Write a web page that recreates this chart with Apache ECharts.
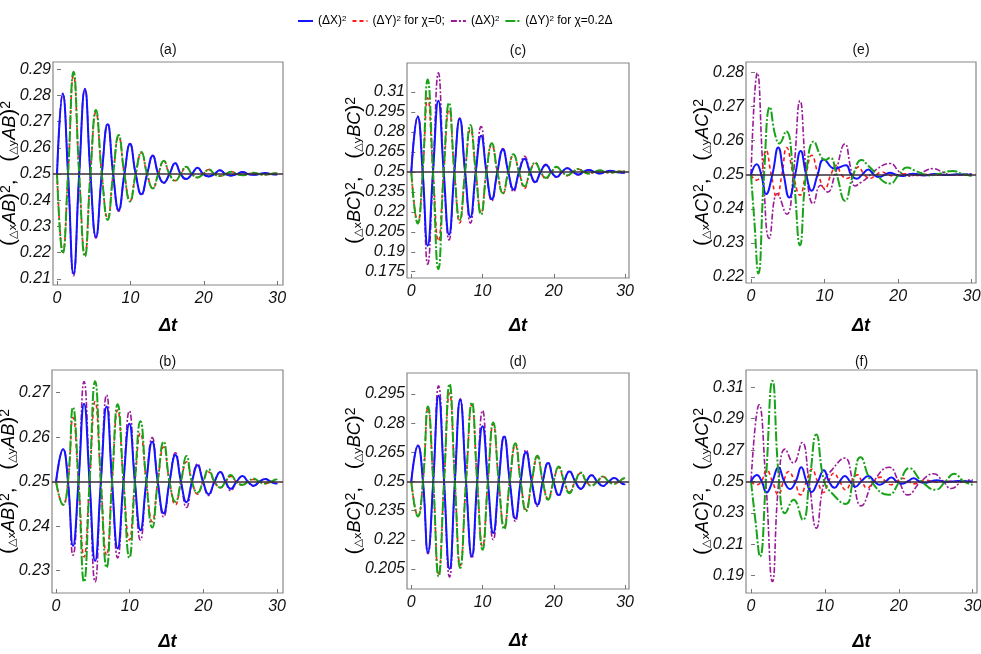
<!DOCTYPE html>
<html>
<head>
<meta charset="utf-8">
<script src="https://cdn.jsdelivr.net/npm/echarts@6/dist/echarts.min.js"></script>
<style>
html, body { margin: 0; padding: 0; background: #fff; }
#main { width: 981px; height: 654px; }
</style>
</head>
<body>
<div id="main"></div>
<script>
var chart = echarts.init(document.getElementById('main'));

// ---- values ----
// X0 = (ΔX)^2, Y0 = (ΔY)^2 for χ=0 ; X2 = (ΔX)^2, Y2 = (ΔY)^2 for χ=0.2Δ

// panel (a)
var tA = [0,0.78,1.5,2.25,3.02,3.8,4.55,5.3,6.1,6.9,7.65,8.4,9.18,9.95,10.72,11.5,12.28,13.05,13.8,14.55,15.32,16.1,16.85,17.6,18.38,19.15,19.92,20.7,21.45,22.2,22.98,23.75,24.52,25.3,26.05,26.8,27.58,28.35,29.12,29.9,30];
var aX0 = [0.25,0.2805,0.25,0.212,0.25,0.2823,0.25,0.2261,0.25,0.269,0.25,0.2363,0.25,0.2614,0.25,0.2423,0.25,0.257,0.25,0.2467,0.25,0.2541,0.25,0.2481,0.25,0.2524,0.25,0.2491,0.25,0.2514,0.25,0.2494,0.25,0.2508,0.25,0.2497,0.25,0.2504,0.25,0.2498,0.2499];
var aY0 = [0.25,0.2202,0.25,0.2875,0.25,0.2195,0.25,0.2735,0.25,0.2332,0.25,0.2642,0.25,0.2398,0.25,0.2581,0.25,0.2446,0.25,0.255,0.25,0.2475,0.25,0.2527,0.25,0.2487,0.25,0.2517,0.25,0.2492,0.25,0.2509,0.25,0.2495,0.25,0.2505,0.25,0.2497,0.25,0.2503,0.2502];
var aX2 = [0.25,0.2808,0.25,0.2112,0.25,0.2826,0.25,0.2255,0.25,0.2692,0.25,0.2358,0.25,0.2616,0.25,0.242,0.25,0.2571,0.25,0.2465,0.25,0.2542,0.25,0.248,0.25,0.2524,0.25,0.2491,0.25,0.2514,0.25,0.2494,0.25,0.2508,0.25,0.2497,0.25,0.2504,0.25,0.2498,0.2499];
var aY2 = [0.25,0.2198,0.25,0.289,0.25,0.2185,0.25,0.2744,0.25,0.2325,0.25,0.2649,0.25,0.2395,0.25,0.2584,0.25,0.2445,0.25,0.2551,0.25,0.2474,0.25,0.2528,0.25,0.2487,0.25,0.2517,0.25,0.2492,0.25,0.2509,0.25,0.2495,0.25,0.2505,0.25,0.2497,0.25,0.2503,0.2502];

// panel (b)
var tB = [0,0.95,1.62,2.3,3.05,3.8,4.55,5.3,6.08,6.86,7.6,8.36,9.15,9.95,10.7,11.45,12.25,13.05,13.8,14.6,15.4,16.2,16.95,17.7,18.45,19.2,19.95,20.7,21.5,22.3,23.0,23.7,24.5,25.3,26.05,26.8,27.6,28.4,29.15,29.9,30];
var bX0 = [0.25,0.2573,0.25,0.2356,0.25,0.2675,0.25,0.2322,0.25,0.2669,0.25,0.235,0.25,0.263,0.25,0.2391,0.25,0.259,0.25,0.2429,0.25,0.256,0.25,0.2454,0.25,0.2537,0.25,0.2472,0.25,0.2522,0.25,0.2484,0.25,0.2513,0.25,0.2491,0.25,0.2506,0.25,0.2496,0.2497];
var bY0 = [0.25,0.2448,0.25,0.2644,0.25,0.2331,0.25,0.268,0.25,0.2335,0.25,0.2661,0.25,0.2369,0.25,0.2609,0.25,0.241,0.25,0.2578,0.25,0.2448,0.25,0.2545,0.25,0.2472,0.25,0.2522,0.25,0.2486,0.25,0.2512,0.25,0.2493,0.25,0.2505,0.25,0.2496,0.25,0.2503,0.2503];
var bX2 = [0.25,0.2573,0.25,0.2335,0.25,0.2725,0.25,0.2275,0.25,0.2695,0.25,0.2329,0.25,0.2659,0.25,0.2369,0.25,0.2599,0.25,0.2421,0.25,0.2565,0.25,0.2442,0.25,0.254,0.25,0.2469,0.25,0.2522,0.25,0.248,0.25,0.2513,0.25,0.249,0.25,0.2506,0.25,0.2496,0.2497];
var bY2 = [0.25,0.2448,0.25,0.2667,0.25,0.2275,0.25,0.2726,0.25,0.2307,0.25,0.2674,0.25,0.2329,0.25,0.2636,0.25,0.2397,0.25,0.259,0.25,0.2455,0.25,0.2558,0.25,0.2475,0.25,0.2528,0.25,0.2487,0.25,0.2515,0.25,0.2493,0.25,0.2507,0.25,0.2496,0.25,0.2505,0.2504];

// panel (c)
var tC = [0,0.9,1.6,2.3,3.05,3.8,4.55,5.3,6.05,6.8,7.55,8.3,9.05,9.8,10.55,11.3,12.08,12.85,13.6,14.35,15.12,15.9,16.65,17.4,18.15,18.9,19.65,20.4,21.15,21.9,22.68,23.45,24.18,24.9,25.7,26.5,27.2,27.9,28.7,29.5,30];
var cX0 = [0.25,0.2915,0.25,0.1946,0.25,0.3035,0.25,0.2029,0.25,0.29,0.25,0.216,0.25,0.2772,0.25,0.2295,0.25,0.2669,0.25,0.2367,0.25,0.2598,0.25,0.2424,0.25,0.2552,0.25,0.2462,0.25,0.2527,0.25,0.248,0.25,0.2515,0.25,0.2488,0.25,0.2508,0.25,0.2494,0.2496];
var cY0 = [0.25,0.212,0.25,0.3056,0.25,0.198,0.25,0.2969,0.25,0.2117,0.25,0.2818,0.25,0.2192,0.25,0.2705,0.25,0.2336,0.25,0.2628,0.25,0.2376,0.25,0.2565,0.25,0.2448,0.25,0.2535,0.25,0.2472,0.25,0.252,0.25,0.2486,0.25,0.2511,0.25,0.2493,0.25,0.2505,0.2504];
var cX2 = [0.25,0.2919,0.25,0.1807,0.25,0.3244,0.25,0.1989,0.25,0.2905,0.25,0.2115,0.25,0.284,0.25,0.2282,0.25,0.2675,0.25,0.2352,0.25,0.2618,0.25,0.2418,0.25,0.2558,0.25,0.2458,0.25,0.2529,0.25,0.2478,0.25,0.2516,0.25,0.2488,0.25,0.2508,0.25,0.2494,0.2496];
var cY2 = [0.25,0.2112,0.25,0.3194,0.25,0.1769,0.25,0.3019,0.25,0.214,0.25,0.2852,0.25,0.2179,0.25,0.2716,0.25,0.2341,0.25,0.2633,0.25,0.2392,0.25,0.257,0.25,0.2455,0.25,0.2538,0.25,0.2475,0.25,0.2522,0.25,0.2487,0.25,0.2512,0.25,0.2494,0.25,0.2505,0.2504];

// panel (d)
var tD = [0,0.93,1.64,2.34,3.08,3.83,4.6,5.37,6.12,6.87,7.68,8.5,9.25,10.0,10.75,11.5,12.27,13.04,13.82,14.6,15.35,16.1,16.9,17.7,18.45,19.2,19.95,20.7,21.45,22.2,23.0,23.8,24.55,25.3,26.1,26.9,27.7,28.5,29.2,29.9,30];
var dX0 = [0.25,0.2684,0.25,0.2136,0.25,0.2941,0.25,0.205,0.25,0.292,0.25,0.2115,0.25,0.2784,0.25,0.2235,0.25,0.2732,0.25,0.231,0.25,0.265,0.25,0.238,0.25,0.2595,0.25,0.243,0.25,0.2552,0.25,0.2462,0.25,0.2532,0.25,0.2477,0.25,0.2518,0.25,0.2486,0.2488];
var dY0 = [0.25,0.2322,0.25,0.2878,0.25,0.2025,0.25,0.2955,0.25,0.2068,0.25,0.2895,0.25,0.2165,0.25,0.2795,0.25,0.2268,0.25,0.2688,0.25,0.2355,0.25,0.2625,0.25,0.2412,0.25,0.2572,0.25,0.2446,0.25,0.2543,0.25,0.248,0.25,0.2525,0.25,0.2489,0.25,0.2516,0.2515];
var dX2 = [0.25,0.2686,0.25,0.2128,0.25,0.2992,0.25,0.2008,0.25,0.2925,0.25,0.2105,0.25,0.2865,0.25,0.22,0.25,0.2735,0.25,0.2295,0.25,0.2663,0.25,0.2372,0.25,0.2598,0.25,0.2427,0.25,0.2554,0.25,0.246,0.25,0.2533,0.25,0.2476,0.25,0.2518,0.25,0.2486,0.2488];
var dY2 = [0.25,0.232,0.25,0.2886,0.25,0.2011,0.25,0.3002,0.25,0.2055,0.25,0.2907,0.25,0.2149,0.25,0.2804,0.25,0.2255,0.25,0.2697,0.25,0.2347,0.25,0.2632,0.25,0.2406,0.25,0.2577,0.25,0.244,0.25,0.2546,0.25,0.2478,0.25,0.2526,0.25,0.2488,0.25,0.2517,0.2516];

// panel (e)  [Δt, value]
var eX0 = [[0,0.25],[0.77,0.2531],[1.4,0.25],[2.05,0.2443],[2.9,0.25],[3.7,0.258],[4.45,0.25],[5.2,0.2433],[6.0,0.25],[6.75,0.257],[7.5,0.25],[8.25,0.2453],[9.05,0.25],[9.9,0.2545],[11.35,0.2518],[12.9,0.2528],[13.6,0.25],[14.35,0.2488],[15.1,0.25],[15.95,0.2515],[16.7,0.25],[17.4,0.2493],[18.2,0.25],[18.9,0.2506],[19.7,0.25],[20.5,0.2496],[21.3,0.25],[22.0,0.2503],[23.5,0.2498],[25.0,0.2502],[26.5,0.2499],[28.0,0.2501],[30,0.25]];
var eY0 = [[0,0.25],[0.68,0.2484],[1.35,0.25],[2.04,0.2572],[2.75,0.25],[3.5,0.2435],[4.2,0.25],[4.85,0.258],[5.75,0.25],[6.65,0.244],[7.45,0.25],[8.25,0.2557],[9.15,0.25],[10.05,0.2459],[10.85,0.25],[11.6,0.2528],[12.3,0.25],[13.0,0.2489],[13.8,0.25],[14.6,0.2523],[15.4,0.25],[16.2,0.2489],[17.0,0.25],[17.8,0.2508],[18.6,0.25],[19.4,0.2496],[21.0,0.2503],[22.5,0.2498],[24.0,0.2501],[26.0,0.25],[30,0.25]];
var eX2 = [[0,0.25],[0.86,0.2799],[1.68,0.25],[2.49,0.2313],[3.58,0.2445],[4.85,0.2384],[5.75,0.25],[6.66,0.2717],[7.57,0.25],[8.47,0.2415],[9.47,0.2469],[10.4,0.2449],[11.4,0.25],[12.78,0.259],[13.5,0.2525],[14.14,0.2467],[15.0,0.2478],[15.7,0.2489],[17.0,0.2515],[18.9,0.2533],[20.2,0.2508],[21.4,0.2496],[23.0,0.2505],[24.8,0.2518],[26.0,0.2508],[27.3,0.2499],[30,0.2503]];
var eY2 = [[0,0.25],[0.45,0.2366],[1.0,0.221],[1.77,0.25],[2.58,0.2699],[3.3,0.2615],[3.85,0.2592],[4.76,0.2628],[5.75,0.25],[6.66,0.2293],[7.48,0.25],[8.56,0.2598],[9.4,0.2558],[10.06,0.2543],[10.74,0.255],[11.64,0.25],[12.78,0.2423],[13.9,0.25],[15.04,0.2543],[15.9,0.2527],[17.0,0.2503],[18.0,0.248],[18.9,0.2474],[20.1,0.25],[21.2,0.2521],[22.3,0.2512],[23.3,0.2503],[24.2,0.2498],[25.6,0.2503],[27.4,0.2511],[28.8,0.2502],[30,0.2496]];

// panel (f)  [Δt, value]
var fX0 = [[0,0.25],[0.8,0.2542],[1.45,0.25],[2.1,0.243],[2.9,0.25],[3.7,0.2591],[4.5,0.25],[5.25,0.2452],[6.05,0.25],[6.8,0.259],[7.5,0.25],[8.2,0.2433],[9.05,0.25],[9.85,0.2572],[10.55,0.25],[11.3,0.246],[12.0,0.25],[12.7,0.2535],[13.4,0.25],[14.1,0.2466],[14.9,0.25],[15.9,0.2535],[16.7,0.25],[17.4,0.2479],[18.2,0.25],[19.0,0.2526],[19.7,0.25],[20.4,0.2486],[21.2,0.25],[22.0,0.252],[22.8,0.25],[23.5,0.2492],[24.3,0.25],[25.1,0.2508],[26.5,0.2497],[28.0,0.2503],[30,0.25]];
var fY0 = [[0,0.25],[0.75,0.2479],[1.4,0.25],[2.1,0.2574],[2.9,0.25],[3.7,0.2415],[4.4,0.25],[5.1,0.2564],[5.9,0.25],[6.7,0.2415],[7.5,0.25],[8.25,0.2579],[9.0,0.25],[9.8,0.243],[10.5,0.25],[11.2,0.2553],[12.0,0.25],[12.8,0.2447],[13.6,0.25],[14.4,0.2542],[15.0,0.25],[15.7,0.2458],[16.6,0.25],[17.5,0.2528],[18.2,0.25],[18.9,0.2479],[19.7,0.25],[20.5,0.2521],[21.3,0.25],[22.1,0.2485],[22.9,0.25],[23.7,0.2508],[25.0,0.2497],[26.5,0.2502],[28.0,0.2499],[30,0.25]];
var fX2 = [[0,0.25],[1.09,0.2988],[2.0,0.25],[2.9,0.1863],[3.75,0.25],[4.62,0.2706],[5.75,0.2617],[6.9,0.2748],[7.85,0.25],[8.84,0.2203],[9.9,0.25],[10.96,0.2574],[12.65,0.2649],[13.8,0.25],[14.9,0.2345],[16.6,0.25],[18.7,0.2591],[20.0,0.25],[21.2,0.2415],[23.0,0.25],[24.7,0.2549],[26.0,0.25],[27.1,0.2455],[28.6,0.25],[30,0.2511]];
var fY2 = [[0,0.25],[0.6,0.225],[1.22,0.2022],[2.0,0.25],[2.9,0.3142],[3.8,0.25],[4.62,0.2298],[5.75,0.2383],[7.0,0.2255],[7.9,0.25],[8.84,0.28],[9.9,0.25],[10.96,0.2425],[12.8,0.2357],[13.8,0.25],[14.8,0.2654],[16.3,0.25],[18.6,0.2415],[20.1,0.25],[21.4,0.2585],[23.1,0.25],[25.0,0.2447],[26.3,0.25],[27.5,0.2549],[28.8,0.25],[30,0.2479]];

// tick labels
var xTicks = [0, 10, 20, 30];
var aTicks = [0.21, 0.22, 0.23, 0.24, 0.25, 0.26, 0.27, 0.28, 0.29];
var bTicks = [0.23, 0.24, 0.25, 0.26, 0.27];
var cTicks = [0.175, 0.19, 0.205, 0.22, 0.235, 0.25, 0.265, 0.28, 0.295, 0.31];
var dTicks = [0.205, 0.22, 0.235, 0.25, 0.265, 0.28, 0.295];
var eTicks = [0.22, 0.23, 0.24, 0.25, 0.26, 0.27, 0.28];
var fTicks = [0.19, 0.21, 0.23, 0.25, 0.27, 0.29, 0.31];

var seriesNames = ['X2', 'Y0', 'X0', 'Y2'];   // drawing order
var legendNames = ['X0', 'Y0', 'X2', 'Y2'];
var legendText = {
    X0: '(ΔX){u|2}',
    Y0: '(ΔY){u|2} for χ=0;',
    X2: '(ΔX){u|2}',
    Y2: '(ΔY){u|2} for χ=0.2Δ'
};
var styles = {
    X0: {color: '#1414ff', width: 2, type: 'solid'},
    Y0: {color: '#ff1a1a', width: 1.6, type: [4, 3]},
    X2: {color: '#9a1a9a', width: 1.6, type: [6, 2, 2, 2]},
    Y2: {color: '#19a319', width: 2, type: [10, 2, 2, 2]}
};

function zip(t, v) {
    return t.map(function (x, i) { return [x, v[i]]; });
}

var panels = [
    {title: '(a)', ty: 50, sub: 'AB', box: [53, 62, 230, 223], xr: [-0.55, 30.8], yr: [0.2077, 0.2927], ticks: aTicks, gap: 34, xGap: 32,
        data: [zip(tA, aX2), zip(tA, aY0), zip(tA, aX0), zip(tA, aY2)]},
    {title: '(c)', ty: 51, sub: 'BC', box: [407, 63, 222, 215], xr: [-0.6, 30.55], yr: [0.1703, 0.3318], ticks: cTicks, gap: 43, xGap: 39,
        data: [zip(tC, cX2), zip(tC, cY0), zip(tC, cX0), zip(tC, cY2)]},
    {title: '(e)', ty: 50, sub: 'AC', box: [746, 62, 230, 221], xr: [-0.68, 30.58], yr: [0.2182, 0.2831], ticks: eTicks, gap: 34, xGap: 34,
        data: [eX2, eY0, eX0, eY2]},
    {title: '(b)', ty: 362, sub: 'AB', box: [52, 370, 231, 223], xr: [-0.55, 30.8], yr: [0.225, 0.2751], ticks: bTicks, gap: 34, xGap: 40,
        data: [zip(tB, bX2), zip(tB, bY0), zip(tB, bX0), zip(tB, bY2)]},
    {title: '(d)', ty: 362, sub: 'BC', box: [407, 373, 222, 216], xr: [-0.6, 30.55], yr: [0.1947, 0.3058], ticks: dTicks, gap: 43, xGap: 43,
        data: [zip(tD, dX2), zip(tD, dY0), zip(tD, dX0), zip(tD, dY2)]},
    {title: '(f)', ty: 362, sub: 'AC', box: [746, 370, 231, 223], xr: [-0.68, 30.58], yr: [0.179, 0.321], ticks: fTicks, gap: 34, xGap: 40,
        data: [fX2, fY0, fX0, fY2]}
];

var SANS = '"Liberation Sans", Arial, sans-serif';

var nameRich = {
    p: {fontSize: 21, fontFamily: SANS, color: '#000', lineHeight: 20},
    d: {fontSize: 11, fontFamily: '"DejaVu Sans"', color: '#000', verticalAlign: 'bottom', lineHeight: 14},
    s: {fontSize: 18, fontFamily: SANS, fontStyle: 'italic', color: '#000', verticalAlign: 'bottom', lineHeight: 18},
    u: {fontSize: 14, fontFamily: SANS, color: '#000', verticalAlign: 'top', lineHeight: 12}
};

function yName(s) {
    return '{p|(}{d|△x}{s|' + s + '}{p|)}{u|2}{p|,   (}{d|△y}{s|' + s + '}{p|)}{u|2}';
}

var grids = [], xAxes = [], yAxes = [], series = [], texts = [];

panels.forEach(function (p, i) {
    grids.push({left: p.box[0], top: p.box[1], width: p.box[2], height: p.box[3],
        outerBoundsMode: 'none', containLabel: false,
        show: true, borderColor: '#888', borderWidth: 1.2, backgroundColor: 'transparent'});
    xAxes.push({
        gridIndex: i, type: 'value', min: p.xr[0], max: p.xr[1],
        name: 'Δt', nameLocation: 'middle', nameGap: p.xGap, nameMoveOverlap: false,
        nameTextStyle: {fontFamily: SANS, fontSize: 18, fontStyle: 'italic', fontWeight: 'bold', color: '#000'},
        axisLine: {show: false}, splitLine: {show: false},
        axisTick: {inside: true, length: 4, customValues: xTicks, lineStyle: {color: '#777'}},
        axisLabel: {customValues: xTicks, margin: 6, fontFamily: SANS, fontSize: 16, fontStyle: 'italic', color: '#111',
            formatter: function (v) { return String(Math.round(v)); }}
    });
    yAxes.push({
        gridIndex: i, type: 'value', min: p.yr[0], max: p.yr[1],
        name: yName(p.sub), nameLocation: 'middle', nameRotate: 90, nameGap: p.gap, nameMoveOverlap: false,
        nameTextStyle: {rich: nameRich},
        axisLine: {show: false}, splitLine: {show: false},
        axisTick: {inside: true, length: 4, customValues: p.ticks, lineStyle: {color: '#777'}},
        axisLabel: {customValues: p.ticks, margin: 2, fontFamily: SANS, fontSize: 16, fontStyle: 'italic', color: '#111',
            formatter: function (v) { return String(+v.toFixed(4)); }}
    });
    seriesNames.forEach(function (n, k) {
        var s = {
            name: n, type: 'line', xAxisIndex: i, yAxisIndex: i,
            data: p.data[k], smooth: 0.5, symbol: 'none', showSymbol: false,
            color: styles[n].color,
            lineStyle: {color: styles[n].color, width: styles[n].width, type: styles[n].type},
            silent: true, animation: false
        };
        if (k === 3) {
            s.markLine = {
                silent: true, symbol: ['none', 'none'], label: {show: false}, animation: false,
                lineStyle: {color: '#3a2a3a', width: 1.6, type: 'solid'},
                data: [{yAxis: 0.25}]
            };
        }
        series.push(s);
    });
    texts.push({
        type: 'text', x: p.box[0] + p.box[2] / 2, y: p.ty,
        style: {text: p.title, font: '14px ' + SANS, fill: '#111', align: 'center', verticalAlign: 'middle'}
    });
});

var option = {
    animation: false,
    backgroundColor: '#fff',
    legend: {
        data: legendNames, left: 292, top: 10, itemWidth: 15, itemHeight: 2, itemGap: 5,
        itemStyle: {opacity: 0},
        formatter: function (name) { return legendText[name]; },
        textStyle: {fontFamily: SANS, fontSize: 12, color: '#000',
            rich: {u: {fontFamily: SANS, fontSize: 8, color: '#000', verticalAlign: 'top', lineHeight: 8}}}
    },
    graphic: texts,
    grid: grids,
    xAxis: xAxes,
    yAxis: yAxes,
    series: series
};

chart.setOption(option);
</script>
</body>
</html>
